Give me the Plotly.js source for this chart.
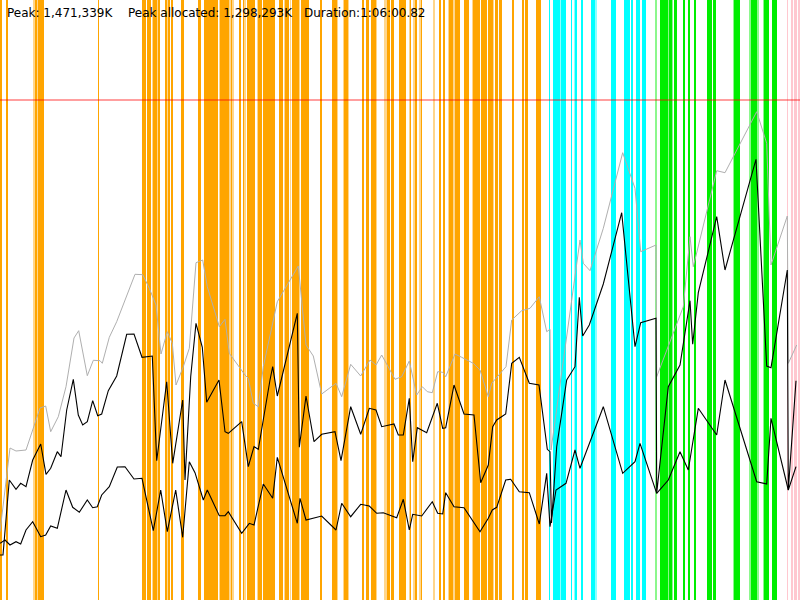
<!DOCTYPE html>
<html>
<head>
<meta charset="utf-8">
<script src="https://cdn.plot.ly/plotly-3.0.1.min.js"></script>
<style>html,body{margin:0;padding:0;background:#fff;}#chart{width:800px;height:600px;}</style>
</head>
<body>
<div id="chart"></div>
<script>
// Activity spans (time units), kinds: O orange, L light orange, C cyan, LC light cyan, G green, LG light green, P pink
const spanStart = [0,6,33.3,34.7,36.7,37.7,97.7,142,147.3,152.3,153.3,156.7,158,165.3,166.7,167.7,170.7,181,198,204,218.7,220,227.3,229.3,230.7,232.3,238.7,242.7,244.3,247,257.3,258.3,263.3,279,284,285,290,291.7,299,300.7,320,332.3,336.7,343.3,344.3,348,362,366,371,376,384,386.7,391,399.3,409,410,413,415.3,419.3,420.7,432.7,439.3,443.3,448,449.3,453.3,454.7,464,472,473.3,481,487.7,492.7,495.3,499.3,512,521.7,525,536,
  549.3,553,560,561,564.3,570.7,574,575.3,580.7,590.7,595.3,611,624,631,635.7,641.7,
  655,659.7,664.7,665.3,668,668.7,672.3,674.3,682.7,687.7,693.7,706.7,712.7,733.3,734.3,749,750.7,757.3,763.3,764.3,772,
  786.7,790.7,794,798.3];
const spanEnd = [2,8,34.7,36.7,37.7,44,99,146,151,153.3,156.7,158,160.3,166.7,167.7,170,172.7,184.3,201,218.3,220,226.7,228.7,230.7,232.3,233.7,240.7,244.3,245.7,255,258.3,262.3,275,283.3,285,289.3,291,299,300,309.3,322,336.7,338,344.3,348,349,364,369,376,377.3,386.7,390,394.3,406,410,411.3,414.7,416.7,420.7,422,434.7,440.7,444.7,449.3,453.3,454.7,460,469,473.3,480,486.7,492.7,494,497.7,502,514,524,528,541,
  550.3,560,561,564,565.7,572.3,574.7,577.3,582.7,595.3,596.7,615.7,630.3,632.7,640,646,
  656.7,664.7,665.3,668,668.7,671.7,673.3,677.3,685,690.3,695.7,711.7,715.7,734.3,740,750.7,757.3,759,764.3,769,777,
  788,792.7,796.7,800];
const spanKind = ['O','O','L','O','L','O','O','O','O','L','O','L','O','O','L','O','O','O','O','O','L','O','O','L','O','L','O','O','L','O','L','O','O','O','L','O','L','O','L','O','O','O','L','L','O','L','O','O','O','L','L','O','O','O','L','O','L','O','L','O','L','O','O','L','O','L','O','O','L','O','O','O','L','O','O','O','O','O','O',
  'C','C','LC','C','C','C','LC','C','C','C','LC','C','C','C','C','C',
  'LG','G','LG','G','LG','G','LG','G','G','G','G','G','G','LG','G','LG','G','LG','LG','G','G',
  'P','P','P','P'];
const kindColor = {O:'#FFA500', L:'rgba(255,165,0,0.45)', C:'#00FFFF', LC:'rgba(0,255,255,0.45)', G:'#00EE00', LG:'rgba(0,238,0,0.45)', P:'#FFC8D0'};

const peakLevel = 500;

// Memory series (time, level)
const grayX = [0,10,16,26,32.7,40,45.7,50.7,58.3,66,74,78.7,87.3,93.3,100,102.3,109.3,116.7,135,142.7,149.3,156,161,167.3,172.3,176,183.3,189.3,196,202.7,207.3,219.3,225,229.3,245,248.3,253.3,258.3,263.3,270,277.3,298.3,306,313.3,321.7,336,341.7,350.7,360.7,370,376,381.7,395,401.7,409.3,416.7,422.3,427.3,432.3,437.7,442.7,445.7,455,461.7,473.3,480,488.3,491.7,506,511.7,521.7,530,539.3,546.7,550,551,580,583.3,590,603.3,622.7,635,640.7,656,656.7,683.3,690,693.3,716.7,725,756.7,766.7,771,787.3,788.3,796.7];
const grayY = [68.3,152,149,150,170,192,194,168.3,183.3,213.3,262,269.3,224.3,239.7,239.3,236.7,262.7,278.3,325.7,325.3,311.7,295,246,268.3,256.7,215,233.3,251.7,337.3,340,313.3,273.3,280.7,246.7,225,221.7,196.7,193.3,233.3,265,298.3,334,255,244,206,216.7,203.3,235.7,224,240,235,245,220.7,223.3,239,205,213.3,208.3,207.3,228.3,227.7,223.3,246,242.7,236.7,230,203.3,216.7,233.3,280,289.3,291.7,303.3,268.3,270.7,150,360,336.7,329.3,371.7,447.3,411.7,348.3,355,223.3,293.3,363.3,333.3,429.3,427.3,488.3,456.7,335,384,236.7,255];

const upperX = [0,3,9.3,16,20.7,26,32.7,40.7,46,50.7,57.3,61,66.7,73.3,78.3,82.7,87.3,92.7,97.7,101.7,108.3,116.7,126.7,134,142,152.3,156.7,166.7,172.7,182.7,185,190.7,196,202.3,206.7,219,225,228.3,241.7,248.3,254,258.3,270,272.7,277.3,297.3,299.3,306,314,321.7,335,341,350.7,360.7,369.3,376,381.7,394,398.3,403.3,409.3,412.7,417.3,426.7,437.3,442.7,445.7,454,464,474,480.7,488.3,492.7,496.7,505.7,511.7,519.3,529.3,539,547.3,550,551.5,556.7,566.7,575,579.3,582.7,589.3,603.3,621.7,635,640.7,656,656.7,668.3,680,690,692.7,698.3,716.7,725,756,766.7,771,787.3,788.3,796];
const upperY = [45,45,120,110.7,116.7,113.3,140,156,125.7,131.7,148.3,143.3,190,220.7,185,175,178.3,199.3,184.3,186,209.3,224,265.7,266,242.7,244,139.3,218.3,136.7,200,120,223.3,276.7,252.7,197.7,220,168.3,166.7,178.3,133.3,153.3,150.7,220,233.3,204,286.7,152.7,204,158.3,165.7,168.3,139.3,193.3,165.7,191.7,190,173.3,176,165,165,201.7,138.3,172.3,167.3,196.7,171.7,172.3,215,186,185,117.3,135,173.3,180,186,236.7,242.7,216.7,215,150.7,148.3,77,153.3,220,233.3,302.7,264,275,316,387.3,253.3,277.3,281.7,106.7,213.3,235,299.3,255.7,307.3,383.3,330,440.7,234,232.3,330,110,219.3];

const lowerX = [0,5,10,16,20.7,26,32.7,40.7,45.7,50.7,57.3,66,72.7,79.3,87.3,92.7,97.3,101.7,109.3,117.3,125,134,142,153.3,160.7,167.3,175.7,182.7,189.3,195,203.3,207.3,219.3,225,228.3,241.7,249.3,254,263.3,270,272.7,277.3,297.3,300,306,321.7,336,341.7,350.7,360.7,369.3,376.7,383.3,396.7,403.3,409.3,412.7,421.7,432.3,437.7,442.7,445.7,454,464,480,488.3,492.3,496.7,505.7,510.7,519.3,529.3,539.3,546.7,550,556,566,575,580,603.3,622.7,635,640,656.7,668.3,680,688.3,698.3,716.7,725,756.7,766.7,771,788.3,796];
const lowerY = [56.7,60,55,58.3,56,70,78.3,63.3,65,74,71.7,110,92.7,87.7,100,92.3,93.3,105,113.3,133,133.3,121,121.7,69.3,110,68.3,110,62.7,138.3,127.3,100,110,84.3,84.3,88.3,66.7,76.7,75,116,106.7,101.7,142.7,76.7,101.7,80,84,70,96.7,83.3,95.7,94,86.7,87.3,82.3,100.7,70,85.7,84,98.3,86.7,86,107.3,93.3,92.3,68.3,81.7,90,92.7,120,120.7,108.3,107.3,76,126.7,73.3,110,116.7,150,131.7,193.3,126.7,138.3,156.7,106.7,120,148.3,130,191.7,165,220,118.3,116,181.7,110,133.3];

const summary = ['Peak: 1,471,339K', 'Peak allocated: 1,298,293K', 'Duration:1:06:00.82'];
const summaryPx = [5, 125.5, 301.5];

const barX = [], barW = [], barY = [], barC = [];
for (let i = 0; i < spanStart.length; i++) {
  barX.push((spanStart[i] + spanEnd[i]) / 2);
  barW.push(spanEnd[i] - spanStart[i]);
  barY.push(600);
  barC.push(kindColor[spanKind[i]]);
}

const traces = [
  {type:'bar', x:barX, y:barY, width:barW, base:0, marker:{color:barC, line:{width:0}}, hoverinfo:'skip'},
  {type:'scatter', mode:'lines', x:[0,800], y:[peakLevel,peakLevel], line:{color:'rgba(255,0,0,0.5)', width:1.5}},
  {type:'scatter', mode:'lines', x:grayX, y:grayY, line:{color:'#AFAFAF', width:1}},
  {type:'scatter', mode:'lines', x:upperX, y:upperY, line:{color:'#000000', width:1.1}},
  {type:'scatter', mode:'lines', x:lowerX, y:lowerY, line:{color:'#000000', width:1.1}}
];

const annotations = summary.map((t, i) => ({
  text: t, xref:'paper', yref:'paper', x: summaryPx[i]/800, y: 1 - 13/600,
  xanchor:'left', yanchor:'middle', showarrow:false,
  font:{family:'DejaVu Sans, sans-serif', size:12, color:'#000'}
}));

const layout = {
  width:800, height:600, margin:{l:0,r:0,t:0,b:0},
  paper_bgcolor:'#fff', plot_bgcolor:'#fff',
  showlegend:false, hovermode:false, barmode:'overlay', bargap:0,
  xaxis:{range:[0,800], visible:false, fixedrange:true},
  yaxis:{range:[0,600], visible:false, fixedrange:true},
  annotations: annotations
};

Plotly.newPlot('chart', traces, layout, {staticPlot:true, displayModeBar:false});
</script>
</body>
</html>
